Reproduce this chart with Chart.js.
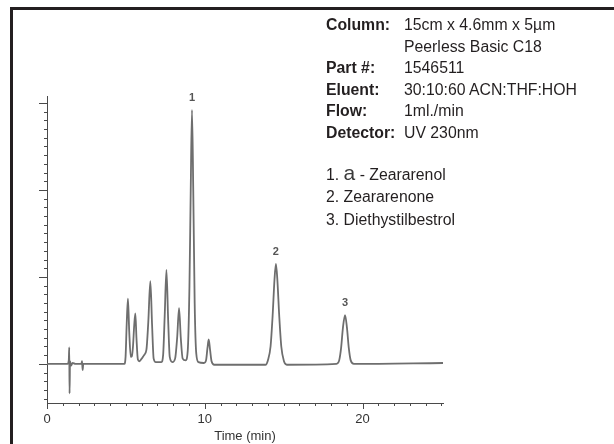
<!DOCTYPE html>
<html>
<head>
<meta charset="utf-8">
<script src="https://cdn.jsdelivr.net/npm/chart.js@4.4.1/dist/chart.umd.min.js"></script>
<style>
  html, body { margin: 0; padding: 0; background: #fff; }
  body { width: 614px; height: 444px; position: relative; overflow: hidden; font-family: "Liberation Sans", Arial, sans-serif; }
  #frame { position: absolute; left: 10px; top: 7px; right: -5px; bottom: -5px; border-top: 3px solid #231f20; border-left: 3px solid #231f20; }
  #chart { position: absolute; left: 0; top: 0; }
  .info { position: absolute; left: 326px; top: 14px; font-size: 15.8px; line-height: 21.5px; color: #231f20; }
  .info div, .list div { white-space: nowrap; }
  .info b { display: inline-block; width: 78px; }
  .list { position: absolute; left: 326px; top: 162px; font-size: 15.8px; line-height: 22.3px; color: #231f20; }
  .alpha { font-size: 21px; color: #3a3a3a; }
</style>
</head>
<body>
<div id="frame"></div>
<canvas id="chart" width="614" height="444"></canvas>
<div class="info">
  <div><b>Column:</b>15cm x 4.6mm x 5µm</div>
  <div><b></b>Peerless Basic C18</div>
  <div><b>Part #:</b>1546511</div>
  <div><b>Eluent:</b>30:10:60 ACN:THF:HOH</div>
  <div><b>Flow:</b>1ml./min</div>
  <div><b>Detector:</b>UV 230nm</div>
</div>
<div class="list">
  <div>1. <span class="alpha">a</span> - Zeararenol</div>
  <div>2. Zeararenone</div>
  <div>3. Diethystilbestrol</div>
</div>
<script>
// chromatogram trace (time in min, detector signal)
const traceTime = [
  0, 1.30, 1.38, 1.41, 1.43, 1.46, 1.52, 1.62, 1.80, 2.18, 2.22, 2.26, 2.30, 2.50,
  4.90, 4.98, 5.05, 5.13, 5.21, 5.31, 5.38, 5.45, 5.53, 5.60, 5.67, 5.76, 5.86,
  6.00, 6.15, 6.30, 6.42, 6.55, 6.66, 6.76, 6.90, 7.25, 7.36, 7.46, 7.57, 7.68,
  7.78, 7.95, 8.12, 8.25, 8.37, 8.48, 8.60, 8.78, 8.92, 9.03, 9.11, 9.19, 9.27,
  9.36, 9.46, 9.60, 9.95, 10.08, 10.17, 10.25, 10.33, 10.43, 10.60, 13.85, 14.00,
  14.17, 14.30, 14.42, 14.51, 14.60, 14.72, 14.85, 15.02, 15.20, 18.35, 18.52,
  18.64, 18.76, 18.89, 19.01, 19.13, 19.25, 19.45, 25.10
];
const traceSignal = [
  0, 0, 0.04, 0.19, -0.34, 0.03, -0.02, 0.01, 0, 0, 0.03, -0.07, 0, 0,
  0, 0.08, 0.45, 0.75, 0.38, 0.08, 0.09, 0.20, 0.45, 0.58, 0.30, 0.05, 0.03,
  0.06, 0.10, 0.16, 0.48, 0.95, 0.45, 0.06, 0.02, 0.02, 0.10, 0.55, 1.08, 0.50,
  0.08, 0.02, 0.06, 0.30, 0.64, 0.30, 0.06, 0.04, 0.15, 0.90, 2.00, 2.92, 2.00,
  0.70, 0.12, 0.02, 0.01, 0.04, 0.18, 0.28, 0.17, 0.03, -0.01, -0.01, 0.04,
  0.20, 0.55, 0.97, 1.15, 0.97, 0.55, 0.20, 0.03, -0.01, 0, 0.04,
  0.18, 0.42, 0.56, 0.42, 0.18, 0.04, 0, 0.01
];

// numbered peaks
const peakNames = ['1', '2', '3'];
const peakTimes = [9.19, 14.51, 18.89];
const peakHeights = [2.92, 1.15, 0.56];

// axes
const xTickLabels = ['0', '10', '20'];
const xRange = [0, 25.1];
const yRange = [-0.45, 3.08];

const xTicks = [];
for (let i = 0; i <= 25; i++) xTicks.push(i);
const yTicks = [];
for (let i = -4; i <= 30; i++) yTicks.push(i / 10);

const axisColor = '#4a4a4a';

const tickMarks = {
  id: 'tickMarks',
  afterDraw(chart) {
    const {ctx, chartArea, scales: {x, y}} = chart;
    ctx.save();
    ctx.strokeStyle = axisColor;
    ctx.lineWidth = 1;
    ctx.beginPath();
    x.ticks.forEach(t => {
      const px = Math.round(x.getPixelForValue(t.value)) + 0.5;
      const len = t.value % 10 === 0 ? 6 : 3;
      ctx.moveTo(px, chartArea.bottom);
      ctx.lineTo(px, chartArea.bottom + len);
    });
    y.ticks.forEach(t => {
      const py = Math.round(y.getPixelForValue(t.value)) + 0.5;
      const major = Math.abs(t.value - Math.round(t.value)) < 1e-9;
      ctx.moveTo(chartArea.left - (major ? 8 : 3), py);
      ctx.lineTo(chartArea.left, py);
    });
    ctx.stroke();

    // peak numbers
    ctx.fillStyle = '#555';
    ctx.font = 'bold 11px "Liberation Sans", Arial, sans-serif';
    ctx.textAlign = 'center';
    ctx.textBaseline = 'middle';
    peakNames.forEach((name, i) => {
      ctx.fillText(name, x.getPixelForValue(peakTimes[i]), y.getPixelForValue(peakHeights[i]) - 12);
    });
    ctx.restore();
  }
};

new Chart(document.getElementById('chart'), {
  type: 'line',
  data: {
    datasets: [{
      data: traceTime.map((t, i) => ({x: t, y: traceSignal[i]})),
      borderColor: '#6e6e6e',
      borderWidth: 1.8,
      pointRadius: 0,
      fill: false,
      cubicInterpolationMode: 'monotone'
    }]
  },
  options: {
    responsive: false,
    animation: false,
    events: [],
    layout: {padding: {left: 47, right: 171, top: 96, bottom: 0}},
    plugins: {legend: {display: false}, tooltip: {enabled: false}},
    scales: {
      x: {
        type: 'linear',
        min: xRange[0],
        max: xRange[1],
        grid: {display: false, drawTicks: false},
        border: {display: true, color: axisColor, width: 1},
        afterBuildTicks: scale => { scale.ticks = xTicks.map(v => ({value: v})); },
        afterFit: scale => { scale.height = 41; },
        ticks: {
          autoSkip: false,
          maxRotation: 0,
          padding: 9,
          color: '#333',
          font: {size: 13, family: '"Liberation Sans", Arial, sans-serif'},
          callback: v => (v % 10 === 0 ? xTickLabels[v / 10] : '')
        },
        title: {
          display: true,
          text: 'Time (min)',
          color: '#333',
          padding: 0,
          font: {size: 13, family: '"Liberation Sans", Arial, sans-serif'}
        }
      },
      y: {
        min: yRange[0],
        max: yRange[1],
        grid: {display: false, drawTicks: false},
        border: {display: true, color: axisColor, width: 1},
        afterBuildTicks: scale => { scale.ticks = yTicks.map(v => ({value: v})); },
        afterFit: scale => { scale.width = 0; },
        ticks: {display: false}
      }
    }
  },
  plugins: [tickMarks]
});
</script>
</body>
</html>
